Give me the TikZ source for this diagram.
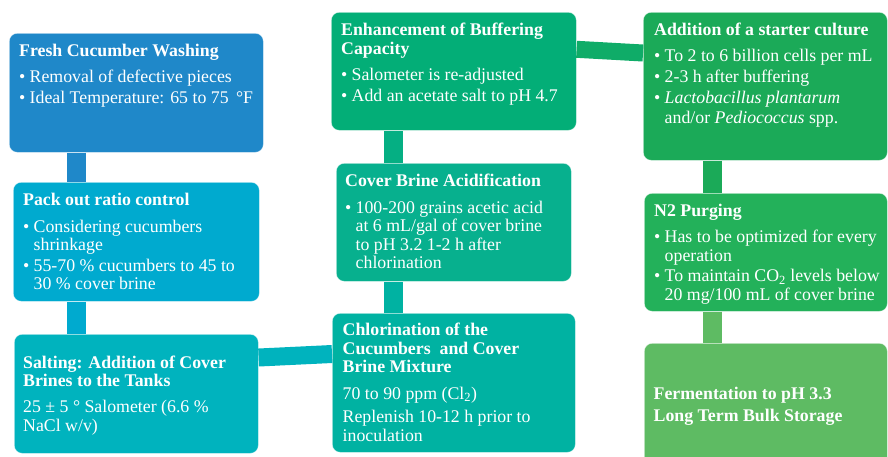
\documentclass[tikz,border=0pt]{standalone}
\usepackage{fontspec}
\setmainfont{Liberation Serif}
\usepackage{xcolor}
\usepackage{tikz}
\usetikzlibrary{positioning}

\definecolor{cwash}{HTML}{1F88C9}
\definecolor{cpack}{HTML}{00AACF}
\definecolor{csalt}{HTML}{00B3BE}
\definecolor{cchlor}{HTML}{00B2A2}
\definecolor{cacid}{HTML}{07B08E}
\definecolor{cbuff}{HTML}{03AE77}
\definecolor{cstart}{HTML}{1BAA58}
\definecolor{cpurge}{HTML}{23B15A}
\definecolor{cferm}{HTML}{5EBB63}

\newcommand{\bul}{\makebox[10.5pt][l]{\textbullet}}
\newcommand{\ind}{\hspace*{10.5pt}}

\begin{document}
\begin{tikzpicture}[x=1pt, y=-1pt,
    box/.style={rectangle, rounded corners=8pt, draw=white, draw opacity=0.5, line width=0.6pt, inner sep=0pt, anchor=north west},
    txt/.style={inner sep=0pt, align=left, text=white, font=\fontsize{17.8}{18.5}\selectfont},
    conn/.style={line width=19pt, line cap=butt}]
    \useasboundingbox (0,0) rectangle (888,456);
    \clip (0,0) rectangle (888,456);

    % Components
    \node[box, fill=cwash, minimum width=254pt, minimum height=119pt] (wash) at (9,33) {};
    \node[box, fill=cpack, minimum width=246pt, minimum height=119pt] (pack) at (13,182) {};
    \node[box, fill=csalt, minimum width=244pt, minimum height=119pt] (salt) at (14,334) {};
    \node[box, fill=cchlor, minimum width=243pt, minimum height=139pt] (chlor) at (332,313) {};
    \node[box, fill=cacid, minimum width=235pt, minimum height=118pt] (acid) at (336,163) {};
    \node[box, fill=cbuff, minimum width=245pt, minimum height=118pt] (buffer) at (331,12) {};
    \node[box, fill=cstart, minimum width=244pt, minimum height=148pt] (starter) at (643,12) {};
    \node[box, fill=cpurge, minimum width=243pt, minimum height=118pt] (purge) at (644,193) {};
    \node[box, fill=cferm, minimum width=243pt, minimum height=126pt] (ferment) at (644,343) {};

    % Data flow
    \draw[conn, cwash] ([xshift=67.5pt]wash.south west) -- ([xshift=63.5pt]pack.north west);
    \draw[conn, cpack] ([xshift=63.5pt]pack.south west) -- ([xshift=62.5pt]salt.north west);
    \draw[conn, csalt, line width=18pt] ([yshift=-23.5pt]salt.north east) -- ([yshift=-41pt]chlor.north west);
    \draw[conn, cchlor] ([xshift=61.5pt]chlor.north west) -- ([xshift=57.5pt]acid.south west);
    \draw[conn, cacid!50!cbuff] ([xshift=57.5pt]acid.north west) -- ([xshift=62.5pt]buffer.south west);
    \draw[conn, cbuff!50!cstart, line width=17pt] ([yshift=-37.3pt]buffer.north east) -- ([yshift=-41pt]starter.north west);
    \draw[conn, cstart] ([xshift=69.5pt]starter.south west) -- ([xshift=68.5pt]purge.north west);
    \draw[conn, cferm] ([xshift=68.5pt]purge.south west) -- ([xshift=68.5pt]ferment.north west);

    % Details
    \node[txt, below right=11pt and 10pt of wash.north west] (washtxt) {
        \textbf{Fresh Cucumber Washing}\\[7.5pt]
        \bul Removal of defective pieces\\[2.8pt]
        \bul Ideal Temperature: 65 to 75 \,°F
    };

    \node[txt, below right=11pt and 10pt of pack.north west] (packtxt) {
        \textbf{Pack out ratio control}\\[8pt]
        \bul Considering cucumbers\\
        \ind shrinkage\\[2.2pt]
        \bul 55-70 \% cucumbers to 45 to\\
        \ind 30 \% cover brine
    };

    \node[txt, right=9pt of salt.west, yshift=-1.5pt] (salttxt) {
        \textbf{Salting: Addition of Cover}\\
        \textbf{Brines to the Tanks}\\[7.5pt]
        25 ± 5 ° Salometer (6.6 \%\\
        NaCl w/v)
    };

    \node[txt, below right=10pt and 10.5pt of chlor.north west] (chlortxt) {
        \textbf{Chlorination of the}\\
        \textbf{Cucumbers\ \ and Cover}\\
        \textbf{Brine Mixture}\\[8pt]
        70 to 90 ppm (Cl\textsubscript{2})\\[5pt]
        Replenish 10-12 h prior to\\
        inoculation
    };

    \node[txt, below right=11pt and 9pt of acid.north west] (acidtxt) {
        \textbf{Cover Brine Acidification}\\[8pt]
        \bul 100-200 grains acetic acid\\
        \ind at 6 mL/gal of cover brine\\
        \ind to pH 3.2 1-2 h after\\
        \ind chlorination
    };

    \node[txt, below right=11pt and 10pt of buffer.north west] (buffertxt) {
        \textbf{Enhancement of Buffering}\\
        \textbf{Capacity}\\[7.5pt]
        \bul Salometer is re-adjusted\\[2.8pt]
        \bul Add an acetate salt to pH 4.7
    };

    \node[txt, below right=11pt and 11pt of starter.north west] (startertxt) {
        \textbf{Addition of a starter culture}\\[7.5pt]
        \bul To 2 to 6 billion cells per mL\\[2.5pt]
        \bul 2-3 h after buffering\\[2.5pt]
        \bul \textit{Lactobacillus plantarum}\\[1pt]
        \ind and/or \textit{Pediococcus} spp.
    };

    \node[txt, below right=11pt and 10pt of purge.north west] (purgetxt) {
        \textbf{N2 Purging}\\[7.5pt]
        \bul Has to be optimized for every\\
        \ind operation\\[2.2pt]
        \bul To maintain CO\textsubscript{2} levels below\\
        \ind 20 mg/100 mL of cover brine
    };

    \node[txt, right=9.5pt of ferment.west] (fermenttxt) {
        \textbf{Fermentation to pH 3.3}\\[2.8pt]
        \textbf{Long Term Bulk Storage}
    };
\end{tikzpicture}
\end{document}
